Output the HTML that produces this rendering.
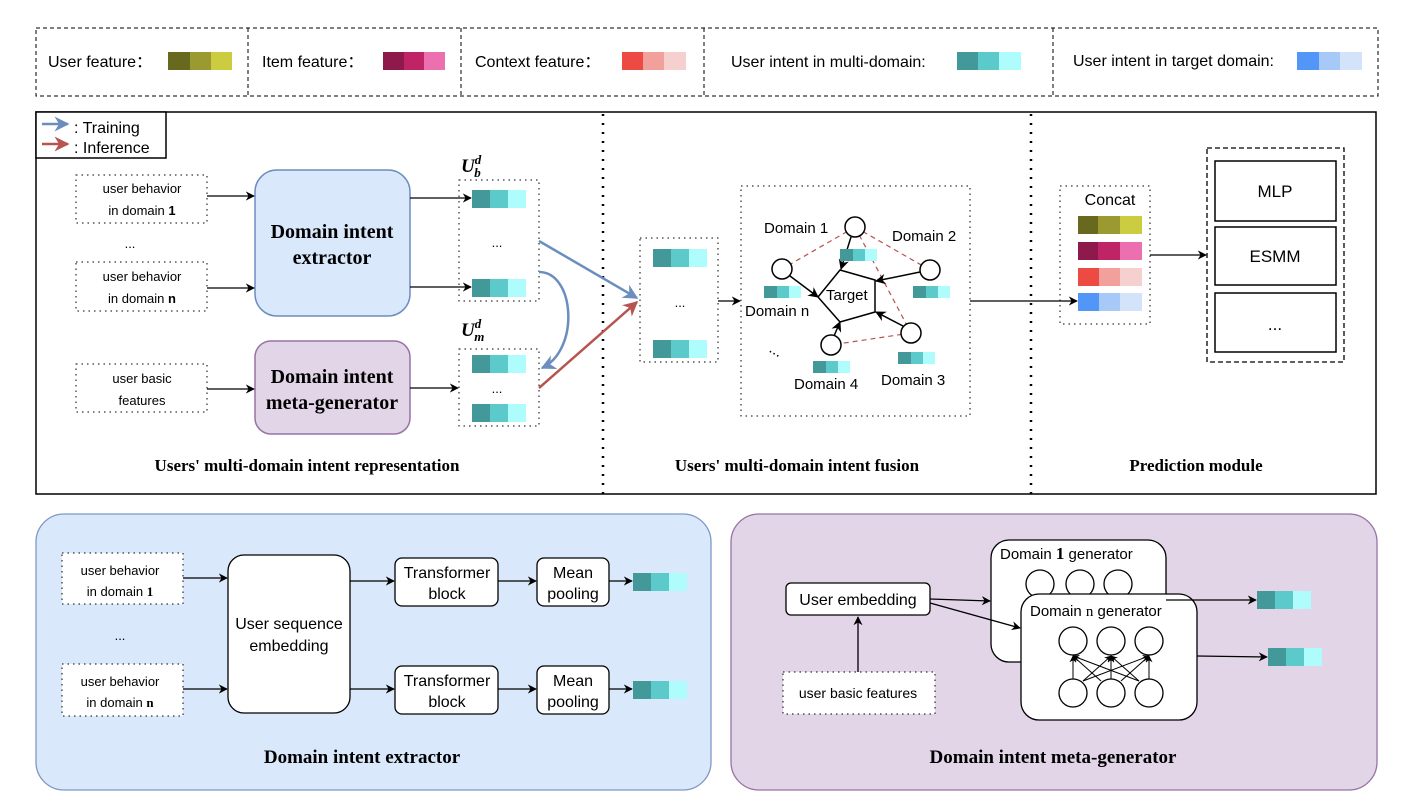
<!DOCTYPE html>
<html><head><meta charset="utf-8"><style>
body{margin:0;background:#fff}
svg{display:block}
text{font-family:"Liberation Sans",sans-serif;fill:#000}
.s{font-family:"Liberation Serif",serif;font-weight:bold}
</style></head><body>
<svg width="1410" height="806" viewBox="0 0 1410 806" xmlns="http://www.w3.org/2000/svg">
<defs>
<marker id="a" viewBox="0 0 10 10" refX="9" refY="5" markerWidth="7" markerHeight="7" orient="auto"><path d="M0,0 L10,5 L0,10 L3,5z" fill="#000"/></marker>
<marker id="ab" viewBox="0 0 10 10" refX="9" refY="5" markerWidth="6" markerHeight="6" orient="auto"><path d="M0,0 L10,5 L0,10 L3,5z" fill="#6c8ebf"/></marker>
<marker id="ar" viewBox="0 0 10 10" refX="9" refY="5" markerWidth="6" markerHeight="6" orient="auto"><path d="M0,0 L10,5 L0,10 L3,5z" fill="#b85450"/></marker>
<g id="tb"><rect x="0" y="0" width="18" height="18" fill="#43999a"/><rect x="18" y="0" width="18" height="18" fill="#5ccaca"/><rect x="36" y="0" width="18" height="18" fill="#aefcfc"/></g>
<g id="ts"><rect x="0" y="0" width="13" height="12" fill="#43999a"/><rect x="13" y="0" width="12" height="12" fill="#5ccaca"/><rect x="25" y="0" width="12" height="12" fill="#aefcfc"/></g>
</defs>

<g stroke="#000" stroke-dasharray="4,3" fill="none">
<rect x="36" y="28" width="1342" height="68"/>
<line x1="248" y1="28" x2="248" y2="96"/><line x1="461" y1="28" x2="461" y2="96"/><line x1="704" y1="28" x2="704" y2="96"/><line x1="1053" y1="28" x2="1053" y2="96"/>
</g>
<g font-size="16">
<text x="48" y="67">User feature：</text>
<text x="262" y="67">Item feature：</text>
<text x="475" y="67">Context feature：</text>
<text x="731" y="67">User intent in multi-domain:</text>
<text x="1073" y="66">User intent in target domain:</text>
</g>
<rect x="168" y="52" width="22" height="18" fill="#68681e"/><rect x="190" y="52" width="21" height="18" fill="#9a9a30"/><rect x="211" y="52" width="21" height="18" fill="#cccc40"/>
<rect x="383" y="52" width="21" height="18" fill="#8e1a4c"/><rect x="404" y="52" width="20" height="18" fill="#bf2566"/><rect x="424" y="52" width="21" height="18" fill="#ec70b0"/>
<rect x="622" y="52" width="21" height="18" fill="#ec4a42"/><rect x="643" y="52" width="21" height="18" fill="#f2a09c"/><rect x="664" y="52" width="22" height="18" fill="#f6cfcf"/>
<rect x="957" y="52" width="21" height="18" fill="#43999a"/><rect x="978" y="52" width="21" height="18" fill="#5ccaca"/><rect x="999" y="52" width="22" height="18" fill="#aefcfc"/>
<rect x="1297" y="52" width="22" height="18" fill="#5297f8"/><rect x="1319" y="52" width="21" height="18" fill="#a6c9f8"/><rect x="1340" y="52" width="22" height="18" fill="#d2e3fa"/>

<rect x="36" y="112" width="1340" height="382" fill="none" stroke="#000" stroke-width="1.5"/>
<line x1="603" y1="114" x2="603" y2="494" stroke="#000" stroke-width="2.5" stroke-dasharray="2,7"/>
<line x1="1031" y1="114" x2="1031" y2="494" stroke="#000" stroke-width="2.5" stroke-dasharray="2,7"/>
<rect x="36" y="112" width="130" height="46" fill="#fff" stroke="#000" stroke-width="1.5"/>
<line x1="42" y1="124" x2="68" y2="124" stroke="#6c8ebf" stroke-width="2.5" marker-end="url(#ab)"/>
<line x1="42" y1="144" x2="68" y2="144" stroke="#b85450" stroke-width="2.5" marker-end="url(#ar)"/>
<text x="74" y="133" font-size="16">: Training</text>
<text x="74" y="153" font-size="16">: Inference</text>

<g fill="none" stroke="#000" stroke-dasharray="1.5,4">
<rect x="76" y="175" width="131" height="48"/><rect x="76" y="262" width="131" height="49"/><rect x="76" y="364" width="131" height="48"/>
<rect x="459" y="180" width="80" height="121"/><rect x="459" y="349" width="80" height="77"/>
<rect x="640" y="238" width="78" height="124"/><rect x="741" y="186" width="229" height="230"/>
<rect x="1060" y="186" width="90" height="138"/>
</g>
<g font-size="13" text-anchor="middle">
<text x="142" y="193">user behavior</text><text x="142" y="215">in domain <tspan font-weight="bold">1</tspan></text>
<text x="130" y="248">...</text>
<text x="142" y="281">user behavior</text><text x="142" y="303">in domain <tspan font-weight="bold">n</tspan></text>
<text x="142" y="383">user basic</text><text x="142" y="405">features</text>
</g>
<rect x="255" y="170" width="155" height="146" rx="22" fill="#dae8fc" stroke="#6c8ebf" stroke-width="1.5"/>
<rect x="255" y="341" width="155" height="93" rx="16" fill="#e1d5e7" stroke="#9673a6" stroke-width="1.5"/>
<g font-size="20" text-anchor="middle">
<text x="332" y="238" class="s">Domain intent</text><text x="332" y="264" class="s">extractor</text>
<text x="332" y="383" class="s">Domain intent</text><text x="332" y="409" class="s">meta-generator</text>
</g>
<g stroke="#000" stroke-width="1.3" marker-end="url(#a)">
<line x1="207" y1="196" x2="254" y2="196"/><line x1="207" y1="288" x2="254" y2="288"/><line x1="207" y1="389" x2="254" y2="389"/>
<line x1="410" y1="198" x2="471" y2="198"/><line x1="410" y1="287" x2="471" y2="287"/><line x1="410" y1="388" x2="458" y2="388"/>
</g>
<use href="#tb" x="472" y="190"/><use href="#tb" x="472" y="279"/>
<use href="#tb" x="472" y="355"/><use href="#tb" x="472" y="404"/>
<text x="497" y="247" font-size="13" text-anchor="middle">...</text>
<text x="497" y="393" font-size="13" text-anchor="middle" fill="#bff">...</text>
<text x="461" y="172" font-size="19" class="s" font-style="italic">U<tspan font-size="13" dy="-8">d</tspan><tspan font-size="13" dx="-7" dy="13">b</tspan></text>
<text x="461" y="336" font-size="19" class="s" font-style="italic">U<tspan font-size="13" dy="-8">d</tspan><tspan font-size="13" dx="-7" dy="13">m</tspan></text>
<line x1="539" y1="241" x2="637" y2="298" stroke="#6c8ebf" stroke-width="2.5" marker-end="url(#ab)"/>
<path d="M539,272 C575,272 580,350 542,368" fill="none" stroke="#6c8ebf" stroke-width="2.5" marker-end="url(#ab)"/>
<line x1="539" y1="388" x2="637" y2="302" stroke="#b85450" stroke-width="2.5" marker-end="url(#ar)"/>

<use href="#tb" x="653" y="249"/><use href="#tb" x="653" y="340"/>
<text x="680" y="307" font-size="13" text-anchor="middle">...</text>
<line x1="718" y1="301" x2="740" y2="301" stroke="#000" stroke-width="1.3" marker-end="url(#a)"/>

<g stroke="#b85450" stroke-width="1.2" stroke-dasharray="5,4">
<line x1="855" y1="227" x2="782" y2="269"/><line x1="855" y1="227" x2="930" y2="270"/><line x1="855" y1="227" x2="911" y2="333"/><line x1="911" y1="333" x2="831" y2="345"/>
</g>
<polyline points="818,297 840,270 875,280 875,312 840,322 818,297" fill="none" stroke="#000" stroke-width="1.5"/>
<g stroke="#000" stroke-width="1.5" marker-end="url(#a)">
<line x1="851" y1="237" x2="841" y2="269"/><line x1="920" y1="272" x2="876" y2="281"/><line x1="903" y1="326" x2="876" y2="312"/>
<line x1="834" y1="336" x2="840" y2="322"/><line x1="790" y1="276" x2="818" y2="297"/>
</g>
<g fill="#fff" stroke="#000" stroke-width="1.5">
<circle cx="855" cy="227" r="10"/><circle cx="782" cy="269" r="10"/><circle cx="930" cy="270" r="10"/><circle cx="911" cy="333" r="10"/><circle cx="831" cy="345" r="10"/>
</g>
<use href="#ts" x="840" y="249"/><use href="#ts" x="764" y="286"/><use href="#ts" x="913" y="286"/><use href="#ts" x="898" y="352"/><use href="#ts" x="813" y="361"/>
<g font-size="15">
<text x="764" y="233">Domain 1</text><text x="892" y="241">Domain 2</text><text x="745" y="316">Domain n</text>
<text x="794" y="389">Domain 4</text><text x="881" y="385">Domain 3</text><text x="826" y="300">Target</text>
<text x="770" y="355" transform="rotate(30 776 350)">...</text>
</g>
<line x1="970" y1="301" x2="1077" y2="301" stroke="#000" stroke-width="1.3" marker-end="url(#a)"/>

<text x="1110" y="205" font-size="16" text-anchor="middle">Concat</text>
<rect x="1078" y="216" width="20" height="18" fill="#68681e"/><rect x="1098" y="216" width="22" height="18" fill="#9a9a30"/><rect x="1120" y="216" width="22" height="18" fill="#cccc40"/>
<rect x="1078" y="242" width="20" height="18" fill="#8e1a4c"/><rect x="1098" y="242" width="22" height="18" fill="#bf2566"/><rect x="1120" y="242" width="22" height="18" fill="#ec70b0"/>
<rect x="1078" y="268" width="21" height="18" fill="#ec4a42"/><rect x="1099" y="268" width="21" height="18" fill="#f2a09c"/><rect x="1120" y="268" width="22" height="18" fill="#f6cfcf"/>
<rect x="1078" y="293" width="21" height="18" fill="#5297f8"/><rect x="1099" y="293" width="21" height="18" fill="#a6c9f8"/><rect x="1120" y="293" width="22" height="18" fill="#d2e3fa"/>
<line x1="1150" y1="255" x2="1206" y2="255" stroke="#000" stroke-width="1.3" marker-end="url(#a)"/>
<rect x="1207" y="148" width="137" height="214" fill="none" stroke="#000" stroke-width="1.3" stroke-dasharray="5,3"/>
<g fill="#fff" stroke="#000" stroke-width="1.5">
<rect x="1215" y="161" width="121" height="60"/><rect x="1215" y="227" width="121" height="58"/><rect x="1215" y="293" width="121" height="59"/>
</g>
<g font-size="17" text-anchor="middle"><text x="1275" y="197">MLP</text><text x="1275" y="262">ESMM</text><text x="1275" y="330">...</text></g>

<g font-size="17" text-anchor="middle">
<text x="307" y="471" class="s">Users' multi-domain intent representation</text>
<text x="797" y="471" class="s">Users' multi-domain intent fusion</text>
<text x="1196" y="471" class="s">Prediction module</text>
</g>

<rect x="36" y="514" width="675" height="276" rx="28" fill="#dae8fc" stroke="#7f97c6" stroke-width="1.3"/>
<g fill="#fff" stroke="#000" stroke-dasharray="1.5,4"><rect x="62" y="553" width="121" height="51"/><rect x="62" y="664" width="121" height="52"/></g>
<g font-size="13" text-anchor="middle">
<text x="120" y="575">user behavior</text><text x="120" y="596">in domain <tspan class="s">1</tspan></text>
<text x="120" y="640">...</text>
<text x="120" y="686">user behavior</text><text x="120" y="707">in domain <tspan class="s">n</tspan></text>
</g>
<rect x="228" y="555" width="122" height="158" rx="16" fill="#fff" stroke="#000" stroke-width="1.3"/>
<g fill="#fff" stroke="#000" stroke-width="1.3">
<rect x="395" y="558" width="103" height="48" rx="7"/><rect x="395" y="666" width="103" height="48" rx="7"/>
<rect x="537" y="558" width="72" height="48" rx="7"/><rect x="537" y="666" width="72" height="48" rx="7"/>
</g>
<g font-size="16" text-anchor="middle">
<text x="289" y="629">User sequence</text><text x="289" y="651">embedding</text>
<text x="447" y="578">Transformer</text><text x="447" y="599">block</text>
<text x="447" y="686">Transformer</text><text x="447" y="707">block</text>
<text x="573" y="578">Mean</text><text x="573" y="599">pooling</text>
<text x="573" y="686">Mean</text><text x="573" y="707">pooling</text>
</g>
<g stroke="#000" stroke-width="1.3" marker-end="url(#a)">
<line x1="183" y1="578" x2="227" y2="578"/><line x1="183" y1="689" x2="227" y2="689"/>
<line x1="350" y1="581" x2="394" y2="581"/><line x1="350" y1="689" x2="394" y2="689"/>
<line x1="498" y1="581" x2="536" y2="581"/><line x1="498" y1="689" x2="536" y2="689"/>
<line x1="609" y1="581" x2="632" y2="581"/><line x1="609" y1="689" x2="632" y2="689"/>
</g>
<use href="#tb" x="633" y="573"/><use href="#tb" x="633" y="681"/>
<text x="362" y="763" font-size="19" text-anchor="middle" class="s">Domain intent extractor</text>

<rect x="731" y="514" width="646" height="276" rx="28" fill="#e1d5e7" stroke="#9673a6" stroke-width="1.3"/>
<rect x="786" y="583" width="144" height="32" rx="5" fill="#fff" stroke="#000" stroke-width="1.3"/>
<text x="858" y="605" font-size="16" text-anchor="middle">User embedding</text>
<rect x="783" y="672" width="152" height="42" fill="#fff" stroke="#000" stroke-dasharray="1.5,4"/>
<text x="858" y="698" font-size="14" text-anchor="middle">user basic features</text>
<line x1="858" y1="672" x2="858" y2="617" stroke="#000" stroke-width="1.3" marker-end="url(#a)"/>
<rect x="991" y="540" width="175" height="122" rx="18" fill="#fff" stroke="#000" stroke-width="1.3"/>
<text x="1000" y="559" font-size="15">Domain <tspan class="s" font-size="17">1</tspan> generator</text>
<g fill="#fff" stroke="#000" stroke-width="1.3"><circle cx="1040" cy="584" r="14"/><circle cx="1080" cy="584" r="14"/><circle cx="1118" cy="584" r="14"/></g>
<rect x="1021" y="594" width="176" height="126" rx="18" fill="#fff" stroke="#000" stroke-width="1.3"/>
<text x="1030" y="616" font-size="15">Domain <tspan font-family="Liberation Serif">n</tspan> generator</text>
<g stroke="#000" stroke-width="1" marker-end="url(#a)">
<line x1="1073" y1="679" x2="1073" y2="656"/><line x1="1111" y1="679" x2="1111" y2="656"/><line x1="1149" y1="679" x2="1149" y2="656"/>
<line x1="1083" y1="681" x2="1111" y2="656"/><line x1="1083" y1="681" x2="1149" y2="656"/>
<line x1="1101" y1="681" x2="1073" y2="656"/><line x1="1121" y1="681" x2="1149" y2="656"/>
<line x1="1139" y1="681" x2="1073" y2="656"/><line x1="1139" y1="681" x2="1111" y2="656"/>
</g>
<g fill="#fff" stroke="#000" stroke-width="1.3">
<circle cx="1073" cy="641" r="14"/><circle cx="1111" cy="641" r="14"/><circle cx="1149" cy="641" r="14"/>
<circle cx="1073" cy="693" r="14"/><circle cx="1111" cy="693" r="14"/><circle cx="1149" cy="693" r="14"/>
</g>
<g stroke="#000" stroke-width="1.3" marker-end="url(#a)">
<line x1="930" y1="599" x2="990" y2="601"/><line x1="930" y1="603" x2="1020" y2="628"/>
<line x1="1166" y1="600" x2="1256" y2="600"/><line x1="1197" y1="656" x2="1267" y2="657"/>
</g>
<use href="#tb" x="1257" y="591"/><use href="#tb" x="1268" y="648"/>
<text x="1053" y="763" font-size="19" text-anchor="middle" class="s">Domain intent meta-generator</text>
</svg>
</body></html>
